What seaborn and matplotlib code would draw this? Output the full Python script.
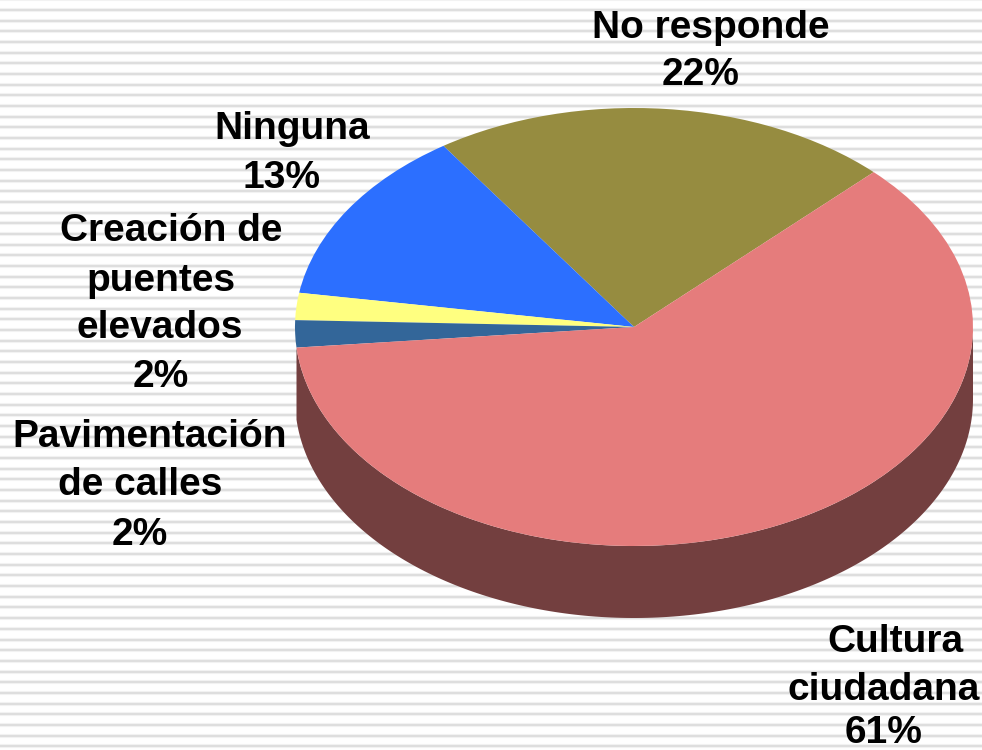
import numpy as np
import matplotlib
matplotlib.use("Agg")
import matplotlib.pyplot as plt
import seaborn as sns
from matplotlib.patches import Polygon

# data
categories = ["No responde", "Ninguna", "Creación de puentes elevados", "Pavimentación de calles", "Cultura ciudadana"]
values = [22, 13, 2, 2, 61]
colors = ["#968C40", "#2C6FFF", "#FFFF80", "#336699", "#E57C7C"]
side_color = "#733F3F"

# label lines: text, centre x, baseline y (pixels)
label_lines = [
    ("No responde", 711, 38), ("22%", 701, 85),
    ("Ninguna", 292, 139), ("13%", 282, 188),
    ("Creación de", 171, 241), ("puentes", 161, 291), ("elevados", 160, 338), ("2%", 161, 387),
    ("Pavimentación", 150, 447), ("de calles", 140, 495), ("2%", 140, 545),
    ("Cultura", 895, 652), ("ciudadana", 884, 700), ("61%", 884, 743),
]

W, H = 982, 750
CX, CY = 634, 327     # pie centre
RX, RY = 339, 219     # ellipse radii
DEPTH = 72            # height of the 3d rim
START = 45

sns.set_theme(style="white")
plt.rcParams["font.family"] = ["Liberation Sans", "DejaVu Sans"]

fig = plt.figure(figsize=(W / 100, H / 100), dpi=100, facecolor="white")

# background stripes, pixel coordinates
bg = fig.add_axes([0, 0, 1, 1], zorder=0)
bg.set_xlim(0, W)
bg.set_ylim(H, 0)
bg.axis("off")
for y in np.arange(-0.7, H, 10.67):
    bg.axhline(y, color="#F2F2F2", lw=2.9, zorder=1)
    bg.axhline(y, color="#DEDEDE", lw=1.4, zorder=2)

# pie
ax = fig.add_axes([0, 0, 1, 1], zorder=1)
ax.patch.set_alpha(0)

# rim under the biggest slice, angles come from the values
frac = np.cumsum(values) / sum(values)
a0 = START + 360 * frac[-2]
a1 = START + 360
theta = np.radians(np.linspace(a0, min(a1, 360), 200))
x = np.cos(theta)
y = np.sin(theta)
d = DEPTH / RY
ax.add_patch(Polygon(np.r_[np.c_[x, y], np.c_[x, y - d][::-1]], closed=True,
                     facecolor=side_color, edgecolor="none", zorder=0))

ax.pie(values, colors=colors, startangle=START, radius=1,
       wedgeprops={"linewidth": 0, "zorder": 2})
ax.set_aspect("auto")
ax.set_xlim(-CX / RX, (W - CX) / RX)
ax.set_ylim((CY - H) / RY, CY / RY)
ax.axis("off")

# labels
for txt, px, py in label_lines:
    bg.text(px, py, txt, ha="center", va="baseline", fontsize=28,
            fontweight="bold", color="black", zorder=5)

fig.savefig("out.png", dpi=100, facecolor="white")
plt.close()
